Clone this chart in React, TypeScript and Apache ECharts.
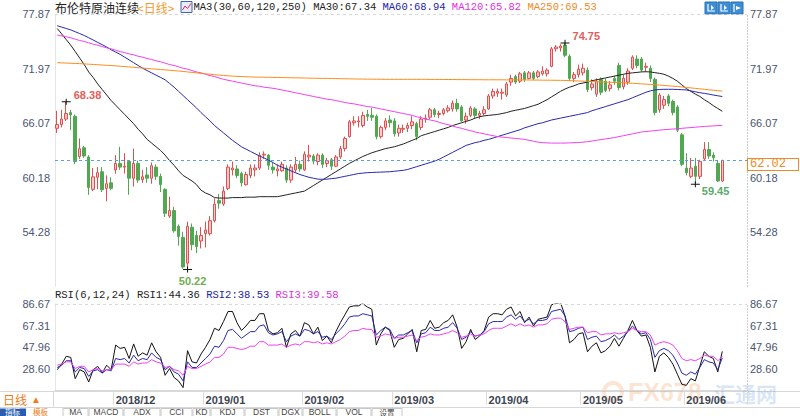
import React, { useEffect, useRef } from 'react';
import * as echarts from 'echarts';

const monthDays: [string, number[]][] = [
  ['2018-11', [14, 15, 16, 19, 20, 21, 22, 23, 26, 27, 28, 29, 30]],
  ['2018-12', [3, 4, 5, 6, 7, 10, 11, 12, 13, 14, 17, 18, 19, 20, 21, 24, 26, 27, 28, 31]],
  ['2019-01', [2, 3, 4, 7, 8, 9, 10, 11, 14, 15, 16, 17, 18, 21, 22, 23, 24, 25, 28, 29, 30, 31]],
  ['2019-02', [1, 4, 5, 6, 7, 8, 11, 12, 13, 14, 15, 18, 19, 20, 21, 22, 25, 26, 27, 28]],
  ['2019-03', [1, 4, 5, 6, 7, 8, 11, 12, 13, 14, 15, 18, 19, 20, 21, 22, 25, 26, 27, 28, 29]],
  ['2019-04', [1, 2, 3, 4, 5, 8, 9, 10, 11, 12, 15, 16, 17, 18, 22, 23, 24, 25, 26, 29, 30]],
  ['2019-05', [1, 2, 3, 6, 7, 8, 9, 10, 13, 14, 15, 16, 17, 20, 21, 22, 23, 24, 27, 28, 29, 30, 31]],
  ['2019-06', [3, 4, 5, 6, 7, 10, 11, 12, 13, 14, 17, 18, 19, 20]],
];
const dates: string[] = monthDays.flatMap(([m, ds]) => ds.map((d) => `${m}-${String(d).padStart(2, '0')}`));

const opens = [
  65.5, 65.9, 66.5, 67.2, 66.8, 62.45, 63.4, 62.4, 58.9, 60.2, 60.8, 59.0, 59.6,
  61.0, 61.7, 61.3, 61.9, 60.1, 61.7, 59.95, 60.45, 60.1, 61.3, 60.3, 58.9, 56.0, 56.6, 54.9, 53.7, 50.9, 54.8, 53.9, 53.3,
  54.1, 54.1, 55.5, 57.7, 57.3, 59.0, 61.0, 61.1, 60.6, 59.4, 60.4, 61.0, 61.2, 62.6, 62.6, 61.3, 60.9, 60.9, 61.2, 59.9, 61.0, 61.6,
  61.0, 62.4, 62.5, 61.9, 62.6, 61.7, 62.1, 61.4, 62.4, 63.3, 64.6, 66.1, 66.2, 65.8, 67.0, 66.9, 66.8, 64.6, 65.6, 66.4,
  66.3, 65.0, 65.4, 65.5, 65.8, 66.0, 65.6, 66.5, 66.7, 67.5, 67.0, 67.1, 67.4, 67.6, 68.2, 67.8, 66.4, 66.9, 67.6, 66.9, 67.1,
  67.6, 69.0, 69.3, 69.3, 69.1, 70.5, 71.1, 70.6, 71.5, 70.9, 71.5, 71.1, 71.4, 71.4, 72.2, 74.1, 74.2, 74.5, 73.3, 70.9, 71.3,
  71.5, 71.8, 69.9, 69.2, 70.8, 70.6, 69.8, 70.9, 72.3, 70.0, 70.5, 72.0, 73.0, 73.0, 72.1, 72.0, 70.8, 67.5, 68.0, 69.0, 68.4, 67.8, 64.8,
  61.2, 60.3, 61.4, 60.3, 62.2, 63.2, 62.6, 61.7, 59.8,
];
const closes = [
  65.9, 66.5, 67.1, 66.95, 61.9, 63.3, 62.5, 59.1, 60.25, 60.7, 58.85, 59.5, 59.0,
  61.7, 61.3, 61.4, 60.1, 61.7, 59.9, 60.25, 60.1, 61.45, 60.3, 59.4, 56.3, 56.6, 54.4, 53.8, 50.5, 54.9, 52.9, 52.7, 53.9,
  54.5, 55.5, 57.3, 57.4, 58.7, 61.3, 61.2, 60.4, 59.6, 60.5, 61.2, 61.2, 62.6, 62.7, 61.5, 61.0, 61.1, 61.6, 59.9, 61.3, 61.6, 61.1,
  62.7, 62.6, 61.95, 62.6, 61.6, 62.0, 61.4, 62.4, 63.3, 64.4, 66.2, 66.3, 66.3, 66.9, 66.8, 66.7, 64.6, 65.6, 66.3, 66.1,
  64.9, 65.5, 65.5, 65.8, 66.2, 64.6, 66.5, 66.6, 67.5, 67.0, 67.1, 67.5, 67.7, 68.2, 67.6, 66.3, 66.8, 67.7, 66.9, 67.1, 67.5,
  69.0, 69.5, 69.5, 69.4, 70.3, 70.9, 70.5, 71.4, 70.8, 71.5, 70.9, 71.6, 71.7, 71.8, 74.1, 74.3, 74.4, 73.4, 70.9, 71.3, 71.9,
  72.0, 69.7, 70.3, 70.6, 69.4, 69.6, 70.2, 70.6, 69.9, 70.9, 71.7, 73.2, 72.3, 71.8, 72.2, 70.9, 67.2, 69.1, 68.6, 68.2, 67.2, 65.3, 61.6,
  60.7, 61.2, 60.3, 61.9, 63.2, 62.5, 62.3, 59.8, 62.02,
];
const lows = [
  65.0, 65.6, 66.3, 65.3, 61.6, 62.2, 62.3, 58.3, 58.7, 58.9, 58.6, 57.6, 58.8,
  60.6, 61.0, 60.6, 58.3, 59.2, 59.6, 59.6, 59.6, 59.5, 59.9, 58.6, 55.9, 55.8, 54.2, 52.8, 50.3, 50.22, 52.3, 52.0, 52.5,
  52.6, 53.9, 55.3, 56.8, 57.1, 58.8, 60.4, 60.1, 59.2, 59.3, 60.1, 60.3, 61.0, 62.2, 61.0, 60.6, 60.3, 60.8, 59.6, 59.6, 60.7, 60.8,
  60.9, 61.9, 61.6, 61.5, 61.2, 61.3, 61.0, 61.3, 62.2, 63.0, 64.5, 65.8, 65.6, 65.6, 66.3, 66.3, 64.3, 64.4, 65.3, 65.6,
  64.6, 64.6, 65.0, 65.1, 65.4, 64.2, 65.3, 66.1, 66.5, 66.7, 66.6, 66.9, 67.2, 67.3, 67.3, 66.2, 66.0, 66.7, 66.6, 66.5, 66.9,
  67.5, 68.7, 68.9, 68.6, 68.9, 70.1, 70.3, 70.4, 70.5, 70.8, 70.7, 70.9, 71.2, 71.1, 72.1, 73.8, 73.8, 73.2, 70.6, 70.5, 71.0,
  71.2, 69.4, 69.6, 68.9, 69.1, 69.4, 69.5, 70.2, 69.6, 69.7, 70.2, 71.8, 72.0, 71.6, 71.6, 70.5, 66.9, 67.2, 67.6, 67.9, 66.9, 65.1, 61.4,
  60.4, 60.1, 59.45, 60.0, 62.0, 62.2, 61.9, 59.7, 59.7,
];
const highs = [
  67.4, 67.5, 68.38, 67.5, 67.0, 64.4, 63.6, 62.6, 61.2, 61.3, 61.3, 60.4, 60.2,
  62.6, 63.5, 62.8, 62.0, 63.3, 62.0, 61.0, 61.3, 61.8, 61.6, 60.6, 59.0, 58.1, 57.0, 55.1, 54.3, 55.4, 55.2, 54.4, 54.8,
  55.4, 56.0, 57.9, 58.4, 59.2, 61.6, 61.9, 61.5, 60.8, 60.8, 61.6, 61.6, 62.9, 63.0, 62.7, 61.8, 61.6, 61.9, 61.5, 61.6, 62.4, 62.0,
  63.0, 63.7, 62.7, 62.8, 62.8, 62.3, 62.3, 62.6, 63.6, 64.6, 66.4, 66.8, 66.8, 67.3, 67.5, 67.7, 67.0, 65.8, 66.6, 66.9,
  66.6, 65.9, 65.9, 66.1, 66.8, 66.2, 66.8, 67.0, 67.7, 67.7, 67.4, 67.7, 68.0, 68.5, 68.7, 68.0, 67.2, 67.9, 67.8, 67.4, 67.9,
  69.2, 69.8, 69.8, 69.8, 70.5, 71.3, 71.3, 71.6, 71.7, 71.7, 71.7, 71.8, 72.2, 72.0, 74.3, 74.5, 74.6, 74.75, 73.5, 71.6, 72.4,
  72.5, 72.1, 70.8, 70.9, 71.0, 70.9, 70.6, 71.2, 72.6, 71.3, 72.0, 73.4, 73.4, 73.2, 72.6, 72.3, 71.0, 69.3, 69.0, 69.2, 68.6, 68.0, 65.0,
  62.8, 62.3, 62.3, 62.1, 64.0, 64.0, 62.9, 62.0, 62.1,
];

const ma30 = [
  76.3, 75.7, 75.1, 74.5, 73.8, 73.1, 72.4, 71.6, 71.0, 70.3, 69.7, 69.1, 68.5,
  68.0, 67.5, 67.0, 66.5, 66.0, 65.4, 64.9, 64.3, 63.9, 63.5, 63.1, 62.6, 62.0, 61.5, 60.9, 60.4, 60.1, 59.8, 59.4, 58.8,
  58.5, 58.3, 58.0, 57.95, 57.95, 57.95, 58.0, 58.0, 58.0, 58.05, 58.05, 58.05, 58.1, 58.1, 58.1, 58.1, 58.1, 58.2, 58.3, 58.4, 58.5, 58.6,
  58.7, 59.0, 59.3, 59.6, 59.9, 60.2, 60.5, 60.8, 61.1, 61.4, 61.7, 61.95, 62.2, 62.45, 62.65, 62.85, 63.0, 63.15, 63.3, 63.4,
  63.5, 63.65, 63.8, 64.0, 64.2, 64.4, 64.7, 64.85, 65.0, 65.15, 65.3, 65.45, 65.6, 65.8, 65.95, 66.1, 66.25, 66.4, 66.6, 66.75, 66.85,
  66.9, 66.95, 67.0, 67.1, 67.2, 67.35, 67.45, 67.55, 67.65, 67.8, 67.95, 68.1, 68.35, 68.6, 68.9, 69.2, 69.5, 69.75, 69.95, 70.1, 70.3,
  70.4, 70.5, 70.65, 70.75, 70.85, 70.95, 71.05, 71.15, 71.25, 71.35, 71.45, 71.5, 71.55, 71.6, 71.62, 71.6, 71.52, 71.45, 71.35, 71.15, 70.9, 70.6, 70.2,
  69.8, 69.5, 69.2, 68.95, 68.6, 68.3, 67.95, 67.65, 67.34,
];
const ma60 = [
  76.6, 76.45, 76.3, 76.15, 75.95, 75.75, 75.55, 75.3, 75.05, 74.8, 74.55, 74.3, 74.0,
  73.75, 73.5, 73.2, 72.9, 72.6, 72.3, 72.0, 71.75, 71.5, 71.25, 71.0, 70.75, 70.35, 69.95, 69.5, 69.05, 68.6, 68.15, 67.7, 67.2,
  66.75, 66.3, 65.8, 65.4, 65.0, 64.6, 64.2, 63.85, 63.5, 63.25, 63.0, 62.75, 62.5, 62.3, 62.05, 61.8, 61.5, 61.3, 61.1, 60.9, 60.7, 60.5,
  60.35, 60.2, 60.1, 60.0, 59.98, 60.0, 60.05, 60.1, 60.2, 60.3, 60.4, 60.5, 60.6, 60.65, 60.7, 60.72, 60.74, 60.76, 60.78, 60.8,
  60.85, 60.9, 60.95, 61.05, 61.2, 61.35, 61.5, 61.65, 61.8, 61.95, 62.15, 62.4, 62.65, 62.9, 63.15, 63.4, 63.65, 63.8, 63.95, 64.05, 64.2,
  64.3, 64.45, 64.6, 64.75, 64.9, 65.05, 65.2, 65.35, 65.55, 65.7, 65.85, 66.0, 66.1, 66.25, 66.4, 66.5, 66.6, 66.7, 66.8, 66.9, 67.0,
  67.1, 67.2, 67.4, 67.55, 67.7, 67.85, 68.0, 68.15, 68.3, 68.45, 68.6, 68.8, 69.0, 69.2, 69.4, 69.55, 69.65, 69.7, 69.72, 69.72, 69.72, 69.7, 69.68,
  69.65, 69.55, 69.45, 69.35, 69.28, 69.2, 69.1, 69.02, 68.94,
];
const ma120 = [
  75.6, 75.5, 75.4, 75.3, 75.15, 75.0, 74.9, 74.75, 74.6, 74.5, 74.35, 74.2, 74.1,
  73.95, 73.8, 73.7, 73.55, 73.45, 73.3, 73.2, 73.05, 72.95, 72.8, 72.7, 72.55, 72.4, 72.3, 72.15, 72.0, 71.9, 71.75, 71.6, 71.5,
  71.35, 71.2, 71.1, 70.95, 70.8, 70.7, 70.6, 70.5, 70.4, 70.3, 70.2, 70.1, 70.05, 69.95, 69.9, 69.83, 69.75, 69.65, 69.55, 69.45, 69.35, 69.25,
  69.15, 69.05, 68.95, 68.85, 68.75, 68.65, 68.6, 68.5, 68.4, 68.3, 68.2, 68.15, 68.05, 67.95, 67.85, 67.8, 67.7, 67.6, 67.5, 67.4,
  67.3, 67.2, 67.1, 67.0, 66.9, 66.75, 66.65, 66.5, 66.4, 66.3, 66.15, 66.0, 65.9, 65.75, 65.6, 65.5, 65.35, 65.25, 65.1, 65.0, 64.9,
  64.8, 64.7, 64.6, 64.55, 64.5, 64.45, 64.4, 64.35, 64.3, 64.2, 64.1, 64.0, 63.95, 63.92, 63.9, 63.9, 63.9, 63.9, 63.92, 63.94, 63.96,
  64.0, 64.05, 64.12, 64.2, 64.28, 64.35, 64.42, 64.5, 64.6, 64.7, 64.8, 64.9, 65.0, 65.1, 65.15, 65.2, 65.25, 65.3, 65.35, 65.38, 65.42, 65.45, 65.5,
  65.54, 65.58, 65.62, 65.66, 65.7, 65.73, 65.76, 65.79, 65.82,
];
const ma250 = [
  72.6, 72.58, 72.56, 72.54, 72.52, 72.5, 72.47, 72.44, 72.41, 72.38, 72.35, 72.32, 72.29,
  72.26, 72.22, 72.18, 72.14, 72.1, 72.06, 72.02, 71.98, 71.94, 71.9, 71.86, 71.82, 71.78, 71.74, 71.7, 71.65, 71.6, 71.55, 71.5, 71.45,
  71.4, 71.35, 71.3, 71.26, 71.22, 71.18, 71.15, 71.12, 71.1, 71.08, 71.06, 71.05, 71.04, 71.03, 71.02, 71.01, 71.0, 70.99, 70.98, 70.97, 70.96, 70.95,
  70.94, 70.93, 70.92, 70.91, 70.9, 70.9, 70.89, 70.88, 70.87, 70.86, 70.85, 70.84, 70.83, 70.83, 70.82, 70.82, 70.81, 70.81, 70.8, 70.8,
  70.8, 70.8, 70.8, 70.8, 70.8, 70.8, 70.8, 70.8, 70.79, 70.79, 70.79, 70.78, 70.78, 70.78, 70.77, 70.77, 70.77, 70.76, 70.76, 70.76, 70.75,
  70.75, 70.75, 70.75, 70.75, 70.74, 70.74, 70.74, 70.73, 70.73, 70.73, 70.72, 70.72, 70.71, 70.71, 70.7, 70.7, 70.69, 70.68, 70.66, 70.64, 70.62,
  70.6, 70.58, 70.56, 70.54, 70.52, 70.5, 70.48, 70.46, 70.44, 70.42, 70.4, 70.37, 70.34, 70.31, 70.28, 70.25, 70.22, 70.18, 70.14, 70.1, 70.06, 70.02, 69.97,
  69.92, 69.87, 69.82, 69.77, 69.72, 69.67, 69.62, 69.57, 69.53,
];

const rsi1 = [
  28, 33, 40, 39, 20, 28, 26, 17, 28, 31, 25, 32, 28,
  50, 47, 48, 38, 51, 40, 43, 41, 52, 44, 39, 23, 29, 21, 18, 12, 45, 35, 34, 42,
  48, 55, 65, 63, 71, 80, 80, 70, 63, 67, 72, 72, 78, 78, 63, 60, 61, 65, 48, 60, 63, 58,
  70, 68, 60, 66, 54, 58, 52, 62, 70, 77, 84, 85, 85, 87, 84, 82, 50, 60, 66, 63,
  48, 55, 56, 60, 64, 44, 63, 64, 72, 65, 66, 70, 72, 77, 66, 47, 53, 64, 55, 58, 63,
  75, 78, 78, 77, 82, 84, 76, 80, 70, 75, 67, 73, 74, 75, 86, 87, 88, 76, 52, 55, 60,
  61, 44, 49, 52, 43, 45, 49, 56, 49, 56, 63, 72, 63, 58, 59, 48, 26, 40, 43, 39, 33, 24, 15,
  14, 20, 18, 31, 44, 40, 38, 26, 44.36,
];
const rsi2 = [
  30, 32, 36, 36, 26, 30, 29, 22, 27, 28, 25, 28, 27,
  38, 37, 38, 34, 41, 36, 38, 37, 43, 39, 37, 28, 31, 26, 24, 18, 35, 30, 30, 34,
  38, 42, 49, 48, 54, 63, 64, 60, 56, 59, 62, 62, 67, 68, 61, 59, 60, 62, 53, 58, 60, 58,
  64, 63, 60, 62, 57, 58, 55, 60, 64, 69, 75, 76, 76, 78, 77, 76, 59, 63, 66, 64,
  56, 59, 59, 61, 63, 52, 60, 61, 66, 63, 63, 65, 66, 70, 65, 55, 57, 62, 58, 59, 62,
  69, 71, 71, 71, 75, 77, 73, 76, 71, 73, 69, 72, 72, 73, 80, 81, 82, 76, 62, 63, 65,
  66, 55, 57, 58, 53, 54, 56, 59, 55, 58, 62, 67, 63, 60, 61, 55, 39, 45, 47, 45, 41, 34, 25,
  23, 26, 24, 30, 37, 35, 34, 28, 38.53,
];
const rsi3 = [
  32, 33, 35, 35, 29, 31, 31, 26, 28, 29, 27, 28, 28,
  33, 33, 33, 31, 35, 33, 34, 34, 37, 35, 34, 30, 31, 28, 27, 23, 31, 29, 29, 31,
  33, 35, 39, 39, 42, 48, 48, 47, 46, 47, 49, 49, 53, 53, 50, 50, 50, 51, 48, 50, 51, 50,
  53, 53, 52, 53, 51, 52, 51, 53, 55, 58, 62, 63, 63, 65, 64, 64, 57, 58, 60, 59,
  56, 57, 57, 58, 59, 54, 57, 58, 60, 59, 59, 60, 61, 63, 61, 57, 58, 60, 58, 59, 60,
  63, 65, 65, 65, 67, 69, 67, 69, 67, 68, 66, 68, 68, 69, 73, 74, 74, 71, 64, 65, 66,
  66, 61, 62, 62, 59, 60, 60, 61, 60, 61, 62, 65, 63, 62, 62, 59, 50, 52, 53, 52, 50, 45, 38,
  36, 37, 36, 38, 41, 40, 40, 36, 39.58,
];

const priceTicks = { min: 48.38, max: 77.87, interval: 5.898 };
const rsiTicks = { min: 9.24, max: 86.672, interval: 19.358 };
const lastPrice = 62.02;

const FONT = '"Liberation Sans", Arial, sans-serif';
const MONO = '"Liberation Mono", "DejaVu Sans Mono", monospace';
const CJK = '"Noto Sans CJK SC", sans-serif';

export default function App() {
  const ref = useRef<HTMLDivElement>(null);
  useEffect(() => {
    if (!ref.current) return;
    const chart = echarts.init(ref.current, undefined, { renderer: 'svg' });
    const n = closes.length;
    const monthStarts = new Set<number>();
    for (let i = 1; i < dates.length; i++) {
      if (dates[i].slice(0, 7) !== dates[i - 1].slice(0, 7)) monthStarts.add(i);
    }
    const candle = opens.map((o, i) => [o, closes[i], lows[i], highs[i]]);
    const iMax = highs.indexOf(Math.max(...highs));
    const iMin = lows.indexOf(Math.min(...lows));
    const iMax0 = highs.slice(0, 10).indexOf(Math.max(...highs.slice(0, 10)));
    const iMin1 = 140 + lows.slice(140).indexOf(Math.min(...lows.slice(140)));
    const crossSym = 'path://M0,2.6H9V3.6H0Z M4,0H5V6H4Z';
    const mp = (i: number, v: number, color: string, pos: any, offset: number[]) => ({
      coord: [dates[i], v],
      symbol: crossSym,
      symbolSize: [9, 6],
      itemStyle: { color: '#111' },
      label: {
        show: true,
        formatter: v.toFixed(2),
        position: pos,
        offset,
        color,
        fontSize: 11,
        fontWeight: 'bold',
        fontFamily: FONT,
      },
    });
    const axisLabelStyle = { color: '#4a5570', fontSize: 11, fontFamily: FONT };
    const yBase = (gridIndex: number, ticks: any, position: 'left' | 'right') => ({
      type: 'value',
      gridIndex,
      position,
      min: ticks.min,
      max: ticks.max,
      interval: ticks.interval,
      scale: true,
      splitLine: { show: false },
      axisTick: { show: false },
      axisLine: position === 'left'
        ? { show: true, lineStyle: { color: '#e2e5ec' } }
        : { show: true, lineStyle: { color: '#c8c8c8', type: [1, 2] } },
      axisLabel: {
        ...axisLabelStyle,
        margin: position === 'left' ? 5 : 3,
        showMinLabel: false,
        formatter: (v: number) => v.toFixed(2),
      },
    });
    const lineS = (name: string, data: number[], color: string, xi: number, yi: number) => ({
      name,
      type: 'line',
      data,
      xAxisIndex: xi,
      yAxisIndex: yi,
      symbol: 'none',
      lineStyle: { color, width: 1 },
      silent: true,
      z: 3,
    });
    const tabs = ['MA', 'MACD', 'ADX', 'CCI', 'KD', 'KDJ', 'DST', 'DGX', 'BOLL', 'VOL', '设置'];
    const tabX = [63, 89, 124, 161, 193, 211, 245, 279, 303, 337, 372];
    const tabW = [25, 34, 36, 31, 17, 33, 33, 23, 33, 34, 30];
    const graphics: any[] = [
      { type: 'text', x: 55, y: 7, style: { text: '布伦特原油连续', fill: '#222', font: `12px ${CJK}`, verticalAlign: 'middle' } },
      { type: 'text', x: 137, y: 7, style: { text: '<日线>', fill: '#f29b2e', font: `12px ${CJK}`, verticalAlign: 'middle' } },
      { type: 'rect', shape: { x: 181, y: 1.5, width: 11, height: 11 }, style: { fill: '#e8ecf8', stroke: '#4060b0', lineWidth: 1 } },
      { type: 'polyline', shape: { points: [[182.5, 10], [185, 6], [187.5, 8.5], [191, 3.5]] }, style: { stroke: '#d03060', lineWidth: 1, fill: 'none' } },
      {
        type: 'text', x: 193.5, y: 7,
        style: {
          text: `{a|MA3(30,60,120,250) MA30:${ma30[n - 1].toFixed(2)} }{b|MA60:${ma60[n - 1].toFixed(2)} }{c|MA120:${ma120[n - 1].toFixed(2)} }{d|MA250:${ma250[n - 1].toFixed(2)}}`,
          font: `10.5px ${MONO}`,
          verticalAlign: 'middle',
          rich: {
            a: { fill: '#222', font: `10.5px ${MONO}` },
            b: { fill: '#2424a8', font: `10.5px ${MONO}` },
            c: { fill: '#e030e0', font: `10.5px ${MONO}` },
            d: { fill: '#f08a24', font: `10.5px ${MONO}` },
          },
        },
      },
      {
        type: 'text', x: 55, y: 295,
        style: {
          text: `{a|RSI(6,12,24) RSI1:${rsi1[n - 1].toFixed(2)} }{b|RSI2:${rsi2[n - 1].toFixed(2)} }{c|RSI3:${rsi3[n - 1].toFixed(2)}}`,
          font: `10.5px ${MONO}`,
          verticalAlign: 'middle',
          rich: {
            a: { fill: '#222', font: `10.5px ${MONO}` },
            b: { fill: '#2424a8', font: `10.5px ${MONO}` },
            c: { fill: '#e030e0', font: `10.5px ${MONO}` },
          },
        },
      },
      ...[705, 718, 731].flatMap((x, k) => [
        { type: 'rect', shape: { x, y: 2, width: 12, height: 12 }, style: { fill: '#3c8fd6', stroke: '#2a6fb5', lineWidth: 1 } },
        {
          type: 'polyline',
          shape: { points: k === 2 ? [[x + 3, 4], [x + 3, 12]] : [[x + 3, 4], [x + 3, 11], [x + 10, 11]] },
          style: { stroke: '#fff', lineWidth: 1.2, fill: 'none' },
        },
        {
          type: 'polygon',
          shape: { points: k === 2 ? [[x + 5, 6], [x + 10, 8], [x + 5, 10]] : [[x + 6, 5], [x + 9, 8], [x + 6, 10]] },
          style: { fill: '#fff' },
        },
      ]),
      { type: 'line', shape: { x1: 0, y1: 391.5, x2: 800, y2: 391.5 }, style: { stroke: '#d8d8d8', lineWidth: 1 } },
      { type: 'line', shape: { x1: 53.5, y1: 391.5, x2: 53.5, y2: 407 }, style: { stroke: '#d8d8d8', lineWidth: 1 } },
      { type: 'line', shape: { x1: 0, y1: 407.5, x2: 800, y2: 407.5 }, style: { stroke: '#d8d8d8', lineWidth: 1 } },
      { type: 'text', x: 3, y: 399.5, style: { text: '日线', fill: '#f07d1a', font: `12px ${CJK}`, verticalAlign: 'middle' } },
      { type: 'text', x: 31, y: 399.5, style: { text: '▲', fill: '#f07d1a', font: `10px ${FONT}`, verticalAlign: 'middle' } },
      { type: 'rect', shape: { x: 0, y: 408.5, width: 26, height: 8 }, style: { fill: '#2a5db0' } },
      { type: 'text', x: 5, y: 411.8, style: { text: '指标', fill: '#fff', font: `7.5px ${CJK}`, verticalAlign: 'middle' } },
      { type: 'text', x: 33, y: 411.8, style: { text: '模板', fill: '#f07d1a', font: `7.5px ${CJK}`, verticalAlign: 'middle' } },
      ...tabs.flatMap((t, k) => [
        { type: 'rect', shape: { x: tabX[k], y: 408.5, width: tabW[k], height: 10 }, style: { fill: '#fff', stroke: '#c8c8c8', lineWidth: 1 } },
        { type: 'text', x: tabX[k] + tabW[k] / 2, y: 412, style: { text: t, fill: '#444', font: `${t === '设置' ? '7.5px ' + CJK : '8.5px ' + FONT}`, align: 'center', verticalAlign: 'middle' } },
      ]),
      { type: 'ring', shape: { cx: 613, cy: 392, r: 11, r0: 7 }, style: { fill: 'rgba(245,150,80,0.25)' } },
      { type: 'text', x: 628, y: 392, style: { text: 'FX678', fill: 'rgba(245,150,80,0.25)', font: `bold 25px ${FONT}`, verticalAlign: 'middle' } },
      { type: 'text', x: 714, y: 393, style: { text: '汇通网', fill: 'rgba(80,140,220,0.22)', font: `bold 21px ${CJK}`, verticalAlign: 'middle' } },
    ];

    chart.setOption({
      animation: false,
      backgroundColor: '#ffffff',
      grid: [
        { left: 55, right: 53, top: 14, height: 272.5 },
        { left: 55, right: 53, top: 304, height: 86.7 },
      ],
      xAxis: [
        { type: 'category', gridIndex: 0, data: dates, boundaryGap: true, axisLine: { show: false }, axisTick: { show: false }, axisLabel: { show: false }, splitLine: { show: false } },
        {
          type: 'category', gridIndex: 1, data: dates, boundaryGap: true,
          axisLine: { show: true, lineStyle: { color: '#d8d8d8' } },
          axisTick: { show: true, interval: (i: number) => monthStarts.has(i), length: 14, lineStyle: { color: '#dcdcdc' } },
          axisLabel: {
            interval: (i: number) => monthStarts.has(i),
            formatter: (v: string) => v.slice(0, 7).replace('-', '/'),
            color: '#3d4452', fontSize: 11, fontWeight: 'bold', fontFamily: FONT, align: 'left', margin: 4,
          },
          splitLine: { show: false },
        },
      ],
      yAxis: [
        yBase(0, priceTicks, 'left'),
        yBase(0, priceTicks, 'right'),
        yBase(1, rsiTicks, 'left'),
        yBase(1, rsiTicks, 'right'),
      ],
      series: [
        {
          name: 'K',
          type: 'candlestick',
          data: candle,
          xAxisIndex: 0,
          yAxisIndex: 0,
          barWidth: 3,
          itemStyle: { color: '#f8cccc', color0: '#52a852', borderColor: '#e0504f', borderColor0: '#52a852', borderWidth: 1 },
          markPoint: {
            silent: true,
            data: [
              mp(iMax0, highs[iMax0], '#e0605a', 'right', [-2, -7]),
              mp(iMin, lows[iMin], '#72ad55', 'bottom', [5, -2]),
              mp(iMax, highs[iMax], '#e0605a', 'right', [-2, -7]),
              mp(iMin1, lows[iMin1], '#5aaa6a', 'right', [-3, 7]),
            ],
          },
          markLine: {
            silent: true,
            symbol: 'none',
            data: [
              {
                yAxis: lastPrice,
                lineStyle: { color: '#5b9ee0', type: [3, 3], width: 1 },
                label: {
                  show: true, position: 'end', distance: 1, formatter: lastPrice.toFixed(2),
                  color: '#f08a24', fontSize: 12, fontFamily: MONO, backgroundColor: '#fff',
                  borderColor: '#f08a24', borderWidth: 1, padding: [0, 12, -1, 2], offset: [0, 4],
                },
              },
              {
                yAxis: priceTicks.max,
                lineStyle: { color: '#d8d8d8', type: [3, 3], width: 1 },
                label: { show: false },
              },
            ],
          },
          z: 2,
        },
        lineS('MA30', ma30, '#222222', 0, 0),
        lineS('MA60', ma60, '#2828b0', 0, 0),
        lineS('MA120', ma120, '#f040f0', 0, 0),
        lineS('MA250', ma250, '#ff8c1a', 0, 0),
        {
          ...lineS('RSI1', rsi1, '#111111', 1, 2),
          markLine: {
            silent: true, symbol: 'none',
            data: [{ yAxis: rsiTicks.max, lineStyle: { color: '#d8d8d8', type: [3, 3], width: 1 }, label: { show: false } }],
          },
        },
        lineS('RSI2', rsi2, '#2828b0', 1, 2),
        lineS('RSI3', rsi3, '#f040f0', 1, 2),
      ],
      graphic: graphics,
    });
    return () => chart.dispose();
  }, []);
  return <div ref={ref} style={{ position: 'fixed', left: 0, top: 0, width: 800, height: 416, background: '#fff' }} />;
}
